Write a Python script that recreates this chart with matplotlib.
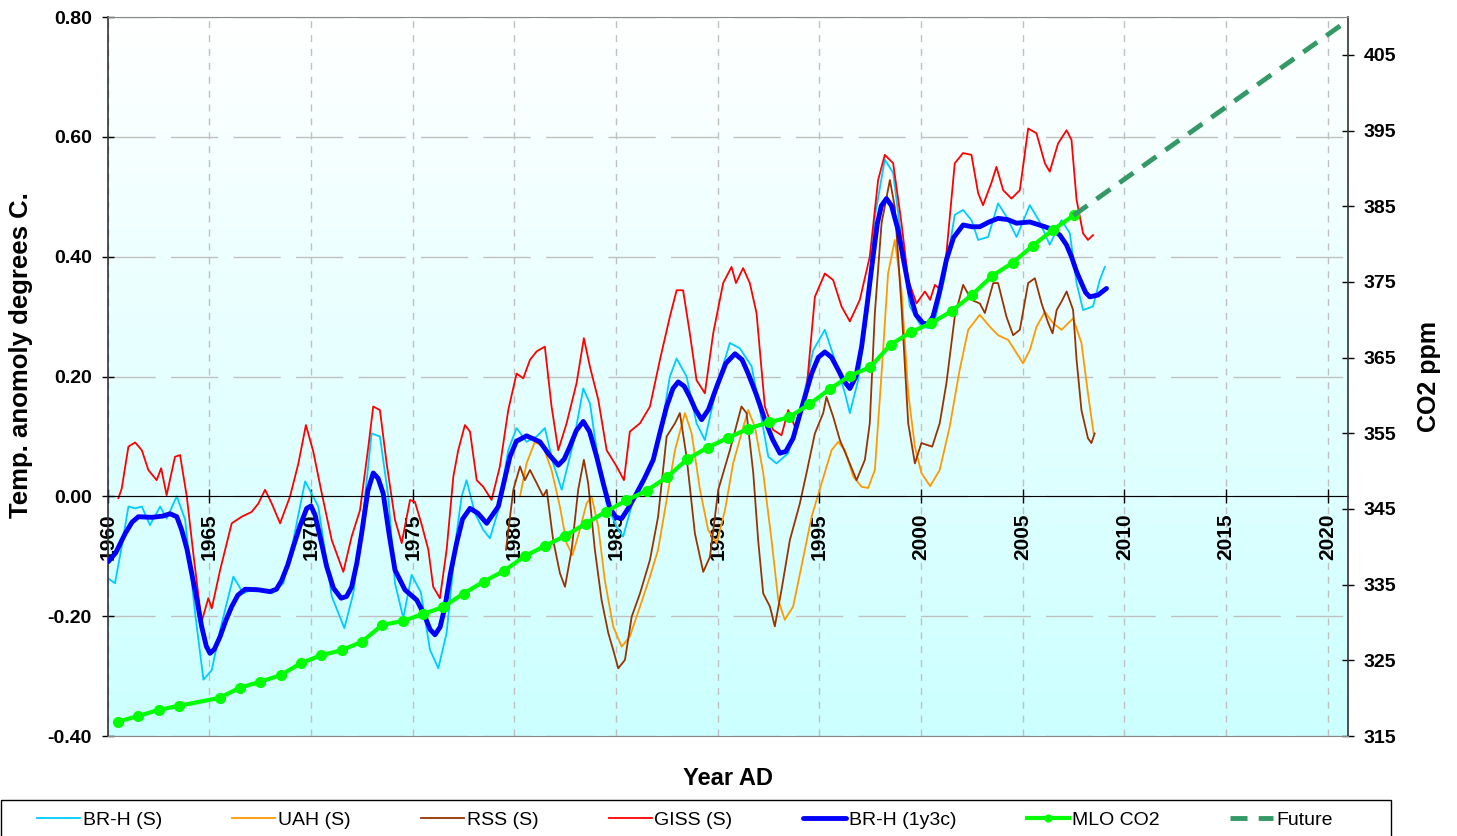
import numpy as np
import matplotlib
matplotlib.use("Agg")
import matplotlib.pyplot as plt
from matplotlib.colors import LinearSegmentedColormap
from matplotlib.patches import Rectangle

plt.rcParams['font.family'] = ['Liberation Sans', 'DejaVu Sans']

# --- temperature anomalies (deg C) ---
brh_yr = [1960.03, 1960.36, 1960.69, 1961.02, 1961.35, 1961.68, 1962.08, 1962.58, 1962.90, 1963.40,
          1963.81, 1964.30, 1964.71, 1965.12, 1965.53, 1966.18, 1966.67, 1967.25, 1968.07, 1968.64,
          1969.13, 1969.71, 1970.36, 1971.02, 1971.64, 1972.08, 1972.57, 1972.98, 1973.39, 1973.80,
          1974.13, 1974.54, 1974.95, 1975.40, 1975.85, 1976.26, 1976.67, 1977.16, 1977.41, 1977.65,
          1978.06, 1978.47, 1978.80, 1979.21, 1979.70, 1980.11, 1980.60, 1981.10, 1981.50, 1981.91,
          1982.33, 1982.90, 1983.39, 1983.72, 1984.05, 1984.54, 1985.03, 1985.35, 1985.85, 1986.67,
          1987.16, 1987.65, 1987.98, 1988.47, 1988.96, 1989.37, 1989.95, 1990.60, 1991.09, 1991.67,
          1992.08, 1992.49, 1992.89, 1993.47, 1994.12, 1994.70, 1995.27, 1995.76, 1996.26, 1996.50,
          1996.91, 1997.40, 1997.73, 1998.22, 1998.63, 1999.04, 1999.45, 2000.02, 2000.59, 2001.17,
          2001.66, 2002.07, 2002.48, 2002.81, 2003.30, 2003.79, 2004.20, 2004.70, 2005.35, 2005.84,
          2006.33, 2006.91, 2007.32, 2007.65, 2007.97, 2008.46, 2008.79, 2009.04]
brh_t = [-0.137, -0.145, -0.084, -0.017, -0.020, -0.017, -0.048, -0.017, -0.037, 0.000,
         -0.039, -0.195, -0.306, -0.290, -0.223, -0.134, -0.162, -0.153, -0.162, -0.145,
         -0.073, 0.025, -0.017, -0.167, -0.220, -0.162, -0.028, 0.105, 0.100, 0.000,
         -0.145, -0.203, -0.131, -0.160, -0.256, -0.287, -0.228, -0.062, 0.000, 0.027,
         -0.028, -0.056, -0.070, -0.023, 0.077, 0.114, 0.091, 0.100, 0.114, 0.055,
         0.011, 0.089, 0.180, 0.155, 0.077, -0.012, -0.051, -0.067, -0.006, 0.044,
         0.100, 0.200, 0.230, 0.200, 0.122, 0.094, 0.183, 0.256, 0.247, 0.217,
         0.144, 0.066, 0.055, 0.072, 0.150, 0.244, 0.278, 0.228, 0.172, 0.139,
         0.194, 0.317, 0.467, 0.562, 0.540, 0.428, 0.317, 0.283, 0.280, 0.367,
         0.470, 0.478, 0.461, 0.428, 0.433, 0.489, 0.467, 0.433, 0.486, 0.458,
         0.420, 0.461, 0.439, 0.356, 0.311, 0.317, 0.361, 0.383]

uah_yr = [1980.28, 1980.60, 1981.01, 1981.42, 1981.83, 1982.24, 1982.57, 1982.86, 1983.22, 1983.55,
          1983.80, 1984.13, 1984.45, 1984.86, 1985.28, 1985.68, 1986.18, 1986.67, 1987.07, 1987.49,
          1987.90, 1988.39, 1988.72, 1989.13, 1989.53, 1989.95, 1990.36, 1990.76, 1991.17, 1991.50,
          1991.83, 1992.24, 1992.65, 1992.98, 1993.30, 1993.71, 1994.12, 1994.62, 1995.11, 1995.60,
          1995.93, 1996.26, 1996.67, 1997.08, 1997.40, 1997.73, 1998.06, 1998.38, 1998.71, 1999.04,
          1999.37, 1999.70, 2000.02, 2000.45, 2000.92, 2001.41, 2001.90, 2002.32, 2002.89, 2003.39,
          2003.79, 2004.29, 2004.70, 2005.02, 2005.35, 2005.68, 2006.09, 2006.50, 2006.91, 2007.48,
          2007.89, 2008.21, 2008.49]
uah_t = [0.000, 0.055, 0.091, 0.083, 0.044, -0.017, -0.078, -0.098, -0.056, -0.012,
         0.000, -0.051, -0.140, -0.217, -0.251, -0.234, -0.184, -0.134, -0.089, -0.006,
         0.077, 0.139, 0.105, 0.011, -0.056, -0.078, -0.023, 0.055, 0.105, 0.144,
         0.116, 0.039, -0.073, -0.173, -0.206, -0.184, -0.117, -0.034, 0.022, 0.077,
         0.091, 0.077, 0.033, 0.016, 0.014, 0.044, 0.205, 0.372, 0.428, 0.344,
         0.172, 0.083, 0.039, 0.017, 0.044, 0.116, 0.211, 0.278, 0.303, 0.283,
         0.269, 0.261, 0.239, 0.222, 0.244, 0.283, 0.308, 0.289, 0.278, 0.297,
         0.256, 0.172, 0.105]

rss_yr = [1979.59, 1979.95, 1980.28, 1980.52, 1980.77, 1981.10, 1981.42, 1981.59, 1981.91, 1982.24,
          1982.49, 1982.82, 1983.14, 1983.42, 1983.63, 1983.96, 1984.29, 1984.62, 1984.86, 1985.11,
          1985.44, 1985.77, 1986.18, 1986.67, 1987.07, 1987.49, 1987.90, 1988.14, 1988.47, 1988.88,
          1989.29, 1989.62, 1990.03, 1990.60, 1991.17, 1991.42, 1991.75, 1991.99, 1992.24, 1992.57,
          1992.81, 1993.14, 1993.55, 1994.04, 1994.37, 1994.78, 1995.19, 1995.35, 1995.68, 1996.01,
          1996.42, 1996.83, 1997.24, 1997.48, 1997.73, 1998.06, 1998.47, 1998.71, 1999.04, 1999.37,
          1999.70, 2000.02, 2000.55, 2000.92, 2001.25, 2001.66, 2002.07, 2002.48, 2002.89, 2003.14,
          2003.55, 2003.79, 2004.20, 2004.53, 2004.86, 2005.27, 2005.60, 2005.93, 2006.26, 2006.47,
          2006.67, 2006.91, 2007.16, 2007.48, 2007.65, 2007.89, 2008.21, 2008.38, 2008.54]
rss_t = [-0.089, 0.011, 0.050, 0.027, 0.044, 0.022, 0.000, 0.011, -0.073, -0.128,
         -0.151, -0.089, 0.011, 0.061, 0.022, -0.089, -0.173, -0.228, -0.256, -0.287,
         -0.273, -0.201, -0.162, -0.106, -0.034, 0.100, 0.122, 0.139, 0.066, -0.062,
         -0.126, -0.101, 0.011, 0.077, 0.150, 0.139, 0.039, -0.073, -0.162, -0.184,
         -0.217, -0.156, -0.073, -0.012, 0.039, 0.105, 0.139, 0.166, 0.133, 0.094,
         0.061, 0.027, 0.061, 0.122, 0.306, 0.456, 0.528, 0.483, 0.317, 0.122,
         0.055, 0.089, 0.083, 0.122, 0.189, 0.300, 0.353, 0.328, 0.322, 0.306,
         0.356, 0.356, 0.300, 0.269, 0.278, 0.356, 0.364, 0.322, 0.289, 0.272,
         0.311, 0.325, 0.342, 0.311, 0.228, 0.144, 0.097, 0.089, 0.105]

giss_yr = [1960.53, 1960.69, 1961.02, 1961.35, 1961.68, 1962.00, 1962.41, 1962.63, 1962.90, 1963.31,
           1963.56, 1963.89, 1964.21, 1964.62, 1964.95, 1965.12, 1965.53, 1966.10, 1966.59, 1967.08,
           1967.41, 1967.74, 1968.07, 1968.48, 1968.97, 1969.38, 1969.75, 1970.11, 1970.53, 1971.02,
           1971.59, 1972.00, 1972.41, 1972.82, 1973.06, 1973.39, 1973.72, 1974.13, 1974.46, 1974.87,
           1975.11, 1975.45, 1975.77, 1976.01, 1976.34, 1976.67, 1977.00, 1977.24, 1977.57, 1977.82,
           1978.15, 1978.47, 1978.88, 1979.29, 1979.70, 1980.11, 1980.44, 1980.77, 1981.10, 1981.50,
           1981.83, 1982.16, 1982.57, 1983.06, 1983.42, 1983.72, 1984.13, 1984.54, 1985.03, 1985.39,
           1985.68, 1986.18, 1986.67, 1987.16, 1987.65, 1987.98, 1988.30, 1988.63, 1988.96, 1989.37,
           1989.78, 1990.27, 1990.68, 1990.90, 1991.25, 1991.58, 1991.91, 1992.32, 1992.73, 1993.14,
           1993.47, 1993.80, 1994.37, 1994.78, 1995.27, 1995.68, 1996.09, 1996.50, 1996.99, 1997.48,
           1997.89, 1998.22, 1998.63, 1999.04, 1999.37, 1999.78, 2000.19, 2000.45, 2000.68, 2000.96,
           2001.25, 2001.66, 2002.07, 2002.48, 2002.81, 2003.05, 2003.46, 2003.71, 2004.04, 2004.45,
           2004.86, 2005.27, 2005.68, 2006.09, 2006.33, 2006.74, 2007.16, 2007.40, 2007.65, 2007.97,
           2008.21, 2008.46]
giss_t = [-0.003, 0.013, 0.083, 0.090, 0.077, 0.044, 0.027, 0.047, 0.002, 0.066,
          0.069, 0.000, -0.095, -0.209, -0.170, -0.187, -0.123, -0.045, -0.034, -0.026,
          -0.012, 0.011, -0.012, -0.045, 0.000, 0.055, 0.119, 0.075, 0.005, -0.073,
          -0.126, -0.067, -0.023, 0.083, 0.150, 0.144, 0.055, -0.039, -0.078, -0.006,
          -0.009, -0.048, -0.089, -0.151, -0.170, -0.089, 0.033, 0.077, 0.119, 0.108,
          0.027, 0.016, -0.006, 0.050, 0.144, 0.205, 0.197, 0.228, 0.242, 0.250,
          0.150, 0.077, 0.122, 0.189, 0.264, 0.216, 0.161, 0.077, 0.050, 0.027,
          0.108, 0.122, 0.150, 0.228, 0.300, 0.344, 0.344, 0.272, 0.194, 0.172,
          0.272, 0.356, 0.383, 0.356, 0.381, 0.356, 0.306, 0.150, 0.111, 0.102,
          0.144, 0.116, 0.178, 0.333, 0.372, 0.361, 0.317, 0.292, 0.328, 0.400,
          0.528, 0.570, 0.556, 0.456, 0.361, 0.322, 0.342, 0.328, 0.353, 0.345,
          0.406, 0.556, 0.573, 0.570, 0.506, 0.486, 0.523, 0.550, 0.511, 0.497,
          0.511, 0.614, 0.606, 0.556, 0.542, 0.589, 0.611, 0.595, 0.495, 0.439,
          0.428, 0.436]

# BR-H three-cycle smoothed series
brhs_yr = [1960.03, 1960.40, 1960.86, 1961.20, 1961.51, 1962.17, 1962.70, 1963.07, 1963.40, 1963.64,
           1963.90, 1964.13, 1964.40, 1964.62, 1964.85, 1965.03, 1965.25, 1965.53, 1965.80, 1966.10,
           1966.40, 1966.76, 1967.41, 1967.98, 1968.30, 1968.56, 1968.85, 1969.13, 1969.45, 1969.79,
           1970.00, 1970.20, 1970.45, 1970.77, 1971.10, 1971.48, 1971.75, 1972.00, 1972.25, 1972.49,
           1972.80, 1973.06, 1973.30, 1973.55, 1973.85, 1974.13, 1974.62, 1975.20, 1975.55, 1975.85,
           1976.10, 1976.35, 1976.59, 1976.85, 1977.16, 1977.45, 1977.82, 1978.20, 1978.64, 1979.21,
           1979.50, 1979.78, 1980.10, 1980.60, 1981.26, 1981.70, 1982.16, 1982.45, 1982.73, 1983.05,
           1983.39, 1983.70, 1984.05, 1984.40, 1984.70, 1985.00, 1985.28, 1985.60, 1986.01, 1986.40,
           1986.83, 1987.15, 1987.49, 1987.80, 1988.06, 1988.35, 1988.63, 1988.90, 1989.21, 1989.55,
           1989.95, 1990.40, 1990.85, 1991.20, 1991.50, 1991.90, 1992.32, 1992.70, 1993.06, 1993.35,
           1993.71, 1994.15, 1994.62, 1994.95, 1995.27, 1995.60, 1995.93, 1996.20, 1996.50, 1996.80,
           1997.08, 1997.35, 1997.64, 1997.85, 1998.05, 1998.30, 1998.55, 1998.87, 1999.15, 1999.45,
           1999.75, 2000.10, 2000.35, 2000.59, 2000.90, 2001.25, 2001.60, 2002.07, 2002.50, 2002.89,
           2003.35, 2003.79, 2004.25, 2004.70, 2005.35, 2006.09, 2006.50, 2006.83, 2007.15, 2007.40,
           2007.65, 2007.89, 2008.10, 2008.30, 2008.70, 2009.12]
brhs_t = [-0.109, -0.094, -0.062, -0.043, -0.034, -0.035, -0.033, -0.029, -0.034, -0.056,
          -0.088, -0.128, -0.175, -0.217, -0.250, -0.262, -0.255, -0.234, -0.208, -0.184,
          -0.165, -0.155, -0.156, -0.159, -0.155, -0.140, -0.115, -0.084, -0.050, -0.020,
          -0.016, -0.031, -0.068, -0.117, -0.153, -0.170, -0.167, -0.151, -0.112, -0.062,
          0.010, 0.039, 0.030, 0.005, -0.065, -0.123, -0.156, -0.173, -0.196, -0.222,
          -0.231, -0.218, -0.184, -0.130, -0.078, -0.038, -0.020, -0.028, -0.045, -0.017,
          0.025, 0.066, 0.092, 0.101, 0.091, 0.070, 0.052, 0.062, 0.083, 0.110,
          0.125, 0.108, 0.066, 0.018, -0.020, -0.035, -0.037, -0.020, 0.005, 0.030,
          0.061, 0.105, 0.150, 0.180, 0.191, 0.184, 0.166, 0.145, 0.128, 0.145,
          0.183, 0.222, 0.238, 0.228, 0.205, 0.170, 0.128, 0.095, 0.072, 0.075,
          0.097, 0.150, 0.205, 0.232, 0.241, 0.232, 0.211, 0.193, 0.180, 0.200,
          0.250, 0.320, 0.400, 0.455, 0.485, 0.497, 0.485, 0.445, 0.393, 0.339,
          0.303, 0.289, 0.288, 0.300, 0.340, 0.395, 0.432, 0.453, 0.450, 0.450,
          0.458, 0.464, 0.462, 0.456, 0.458, 0.450, 0.445, 0.436, 0.420, 0.400,
          0.375, 0.356, 0.340, 0.333, 0.336, 0.347]

# --- Mauna Loa CO2 annual means (ppm), plotted mid-year ---
co2_yr = [1960.5, 1961.5, 1962.5, 1963.5, 1965.5, 1966.5, 1967.5, 1968.5, 1969.5, 1970.5,
          1971.5, 1972.5, 1973.5, 1974.5, 1975.5, 1976.5, 1977.5, 1978.5, 1979.5, 1980.5,
          1981.5, 1982.5, 1983.5, 1984.5, 1985.5, 1986.5, 1987.5, 1988.5, 1989.5, 1990.5,
          1991.5, 1992.5, 1993.5, 1994.5, 1995.5, 1996.5, 1997.5, 1998.5, 1999.5, 2000.5,
          2001.5, 2002.5, 2003.5, 2004.5, 2005.5, 2006.5, 2007.5]
co2_ppm = [316.91, 317.64, 318.45, 318.99, 320.04, 321.38, 322.16, 323.04, 324.62, 325.68,
           326.32, 327.45, 329.68, 330.18, 331.11, 332.04, 333.83, 335.40, 336.84, 338.75,
           340.11, 341.45, 343.05, 344.65, 346.12, 347.42, 349.19, 351.57, 353.12, 354.39,
           355.61, 356.45, 357.10, 358.83, 360.82, 362.61, 363.73, 366.70, 368.38, 369.55,
           371.14, 373.28, 375.80, 377.52, 379.80, 381.90, 383.79]

future_yr = [2007.5, 2020.7]
future_ppm = [383.79, 409.0]

x_ticks = list(range(1960, 2021, 5))
t_ticks = [-0.4, -0.2, 0.0, 0.2, 0.4, 0.6, 0.8]
ppm_ticks = list(range(315, 406, 10))

fig = plt.figure(figsize=(14.57, 8.36), dpi=100)
ax = fig.add_axes([0.0739, 0.1196, 0.8513, 0.8600])
ax2 = ax.twinx()

# x axis drawn through zero (set before ticks: moving the spine resets them)
ax.spines['bottom'].set_position(('data', 0))
ax.spines['bottom'].set_color('black')
ax.spines['top'].set_visible(False)
ax.spines['right'].set_visible(False)
ax.spines['left'].set_color('#333333')
ax.spines['left'].set_linewidth(1.2)
ax2.spines['left'].set_visible(False)
ax2.spines['right'].set_color('#333333')
ax2.spines['right'].set_linewidth(1.2)
ax2.spines['top'].set_color('#888888')
ax2.spines['bottom'].set_color('#888888')

# white-to-cyan plot area fill
bg = LinearSegmentedColormap.from_list('bg', ['#ccffff', '#ffffff'])
ax.imshow(np.linspace(0, 1, 256).reshape(-1, 1), cmap=bg, origin='lower',
          extent=[1960, 2021, -0.4, 0.8], aspect='auto', zorder=0)

ax.plot(brh_yr, brh_t, color='#00ccff', lw=1.3, label='BR-H (S)', zorder=2)
ax.plot(uah_yr, uah_t, color='#ff9900', lw=1.3, label='UAH (S)', zorder=2)
ax.plot(rss_yr, rss_t, color='#993300', lw=1.3, label='RSS (S)', zorder=2)
ax.plot(giss_yr, giss_t, color='#ff0000', lw=1.3, label='GISS (S)', zorder=2)
ax.plot(brhs_yr, brhs_t, color='#0000ff', lw=3.5, label='BR-H (1y3c)', zorder=3,
        solid_joinstyle='round', solid_capstyle='round')
ax2.plot(co2_yr, co2_ppm, color='#00ff00', lw=3, marker='o', ms=7, label='MLO CO2')
ax2.plot(future_yr, future_ppm, color='#339966', lw=3.5, linestyle=(0, (3.5, 2.3)), label='Future')

ax.set_xlim(1960, 2021)
ax.set_ylim(-0.4, 0.8)
ax2.set_ylim(315, 410)

ax.tick_params(axis='x', direction='inout', length=10, width=1, pad=7.5, labelsize=15, labelrotation=90)
ax.tick_params(axis='y', direction='inout', length=9, width=1, pad=7, labelsize=14)
ax2.tick_params(axis='y', direction='inout', length=9, width=1, pad=7, labelsize=14)

ax.set_xticks(x_ticks, [str(v) for v in x_ticks], fontweight='bold', rotation=90, fontsize=15)
ax.set_yticks(t_ticks, [f"{v:.2f}" for v in t_ticks], fontweight='bold')
ax2.set_yticks(ppm_ticks, [str(v) for v in ppm_ticks], fontweight='bold')

ax.xaxis.grid(True, color='#c0c0c0', lw=1, linestyle=(0, (5, 5)))
ax.yaxis.grid(True, color='#c0c0c0', lw=1, linestyle=(0, (34, 11)))

ax.set_ylabel('Temp. anomoly degrees C.', fontsize=18.5, fontweight='bold')
ax.yaxis.set_label_coords(-0.060, 0.53)
ax2.set_ylabel('CO2 ppm', fontsize=18, fontweight='bold')
ax2.yaxis.set_label_coords(1.056, 0.5)
ax.set_xlabel('Year AD', fontsize=17, fontweight='bold')
ax.xaxis.set_label_coords(0.5, -0.043)

h1, l1 = ax.get_legend_handles_labels()
h2, l2 = ax2.get_legend_handles_labels()
fig.legend(h1 + h2, l1 + l2, loc='center left', bbox_to_anchor=(37 / 1457, 1 - 820 / 836),
           ncol=7, frameon=False, fontsize=14, handlelength=2.2, handletextpad=0.15,
           columnspacing=3.62, borderpad=0, borderaxespad=0, markerscale=0.7)
fig.add_artist(Rectangle((1 / 1457, -0.02), 1390 / 1457, 0.02 + 1 - 800 / 836,
                         transform=fig.transFigure, fill=False, ec='black', lw=1))

fig.savefig('out.png', dpi=100)
